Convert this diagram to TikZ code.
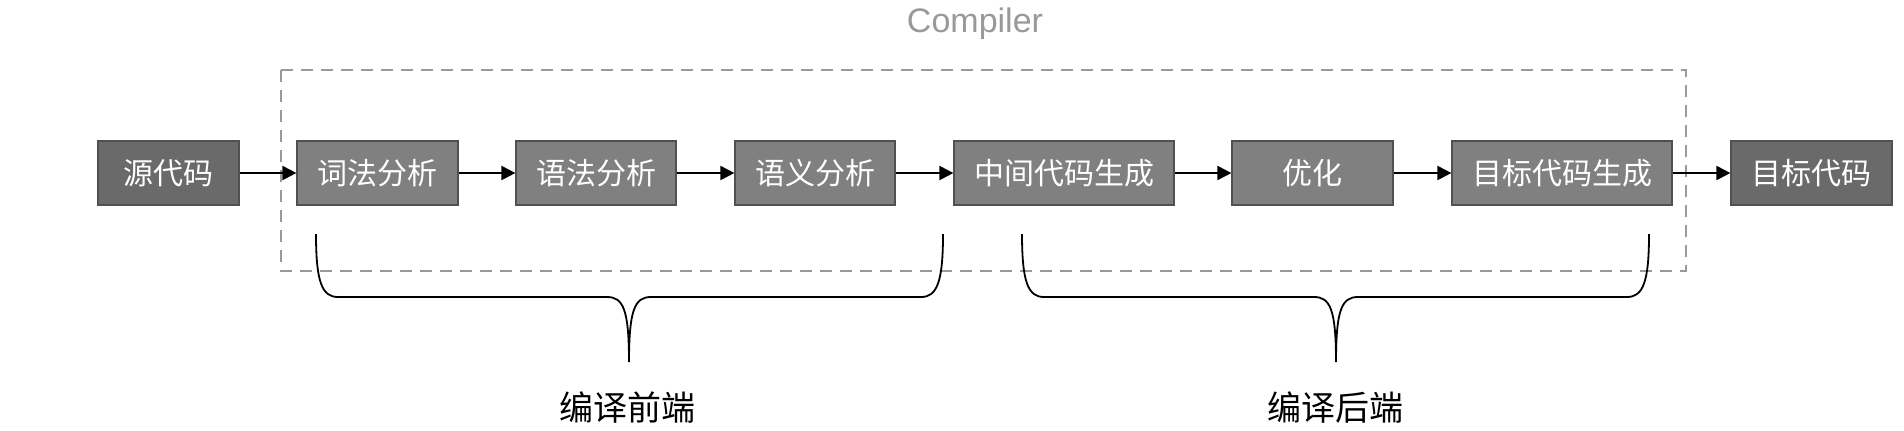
\documentclass[tikz,border=0pt]{standalone}
\usepackage{fontspec}
\setmainfont{Liberation Sans}
\newfontfamily\cjk{Noto Sans CJK SC}
\usetikzlibrary{arrows.meta}
\definecolor{stagegray}{RGB}{128,128,128}
\definecolor{endgray}{RGB}{106,106,106}
\definecolor{edgegray}{RGB}{80,80,80}
\definecolor{framegray}{RGB}{153,153,153}

\begin{document}
\begin{tikzpicture}[
  x=1pt, y=1pt,
  stage/.style={draw=edgegray, line width=0.6pt, fill=stagegray, text=white,
                minimum height=32pt, inner sep=0pt, font=\cjk\fontsize{15}{17}\selectfont},
  endbox/.style={stage, fill=endgray},
  flow/.style={-{Triangle[length=7pt, width=7pt]}, line width=1pt, draw=black},
  brace/.style={line width=0.9pt, draw=black},
  part/.style={font=\cjk\fontsize{17}{19}\selectfont, inner sep=0pt},
]
\useasboundingbox (0,0) rectangle (952,-215);

% ---- compiler frame ----
\draw[framegray, line width=0.8pt, dash pattern=on 6pt off 4pt] (140.5,-35) rectangle (843,-135.5);
\node[text=framegray, font=\fontsize{17}{19}\selectfont] (cmp) at (487.5,-12) {Compiler};

% ---- pipeline ----
\node[endbox, minimum width=70.5pt] (src) at (84.25,-86.5) {源代码};
\node[stage, minimum width=80.5pt] (lex) at (188.75,-86.5) {词法分析};
\node[stage, minimum width=80pt] (syn) at (298,-86.5) {语法分析};
\node[stage, minimum width=80pt] (sem) at (407.5,-86.5) {语义分析};
\node[stage, minimum width=110pt] (ir) at (532,-86.5) {中间代码生成};
\node[stage, minimum width=80.5pt] (opt) at (656.25,-86.5) {优化};
\node[stage, minimum width=110pt] (gen) at (781,-86.5) {目标代码生成};
\node[endbox, minimum width=80.5pt] (tgt) at (905.75,-86.5) {目标代码};

\draw[flow] (src) -- (lex);
\draw[flow] (lex) -- (syn);
\draw[flow] (syn) -- (sem);
\draw[flow] (sem) -- (ir);
\draw[flow] (ir) -- (opt);
\draw[flow] (opt) -- (gen);
\draw[flow] (gen) -- (tgt);

% ---- front / back end braces ----
\foreach \l/\c/\r in {158/314.5/471.5, 511/668/824.5}{
  \draw[brace] (\l,-117) .. controls (\l,-141) and (\l+3,-148.5) .. (\l+11,-148.5)
    -- (\c-11,-148.5) .. controls (\c-3,-148.5) and (\c,-154.5) .. (\c,-181)
    .. controls (\c,-154.5) and (\c+3,-148.5) .. (\c+11,-148.5)
    -- (\r-11,-148.5) .. controls (\r-3,-148.5) and (\r,-141) .. (\r,-117);
}
\node[part] (front) at (313.5,-203.5) {编译前端};
\node[part] (back) at (667.5,-203.5) {编译后端};
\end{tikzpicture}
\end{document}
